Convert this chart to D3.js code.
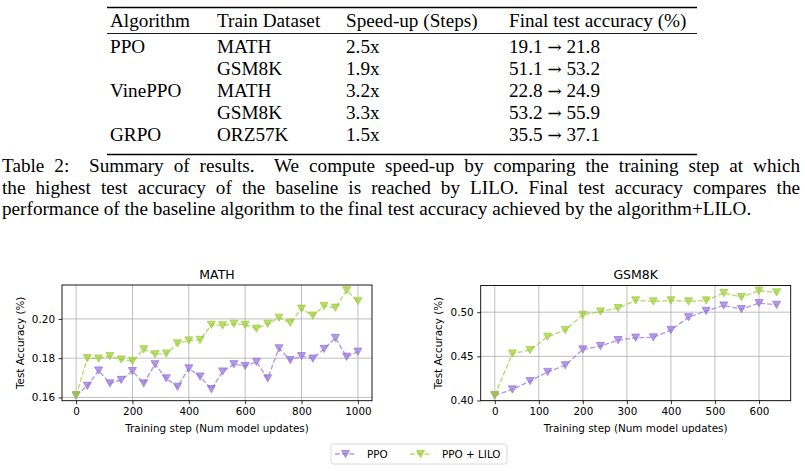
<!DOCTYPE html>
<html>
<head>
<meta charset="utf-8">
<script src="https://cdn.jsdelivr.net/npm/d3@7"></script>
<style>
  body { margin: 0; background: #fff; }
  svg { display: block; }
</style>
</head>
<body>
<script>
// ---- table data ----
const tableHeader = ["Algorithm", "Train Dataset", "Speed-up (Steps)", "Final test accuracy (%)"];
const algorithms = ["PPO", "", "VinePPO", "", "GRPO"];
const datasets = ["MATH", "GSM8K", "MATH", "GSM8K", "ORZ57K"];
const speedups = ["2.5x", "1.9x", "3.2x", "3.3x", "1.5x"];
const accBefore = ["19.1", "51.1", "22.8", "53.2", "35.5"];
const accAfter = ["21.8", "53.2", "24.9", "55.9", "37.1"];
const captionLines = [
  "Table 2:  Summary of results.  We compute speed-up by comparing the training step at which",
  "the highest test accuracy of the baseline is reached by LILO. Final test accuracy compares the",
  "performance of the baseline algorithm to the final test accuracy achieved by the algorithm+LILO."
];

// ---- chart data ----
const mathSteps = [0, 40, 80, 120, 160, 200, 240, 280, 320, 360, 400, 440, 480, 520, 560, 600, 640, 680, 720, 760, 800, 840, 880, 920, 960, 1000];
const mathPPO = [0.161, 0.1659, 0.1737, 0.1671, 0.1689, 0.1734, 0.1671, 0.1769, 0.1697, 0.1654, 0.1748, 0.1706, 0.1642, 0.1732, 0.1769, 0.176, 0.1781, 0.1697, 0.185, 0.179, 0.181, 0.1798, 0.1847, 0.1903, 0.1807, 0.1833];
const mathLILO = [0.161, 0.180, 0.1798, 0.181, 0.1793, 0.1785, 0.1845, 0.182, 0.1823, 0.1875, 0.189, 0.1893, 0.197, 0.1967, 0.1975, 0.197, 0.195, 0.1975, 0.2006, 0.198, 0.2052, 0.2017, 0.2066, 0.2057, 0.2146, 0.209];
const mathXTicks = [0, 200, 400, 600, 800, 1000];
const mathYTicks = [0.16, 0.18, 0.20];

const gsmSteps = [0, 40, 80, 120, 160, 200, 240, 280, 320, 360, 400, 440, 480, 520, 560, 600, 640];
const gsmPPO = [0.4057, 0.4125, 0.422, 0.4323, 0.4399, 0.4578, 0.4616, 0.4684, 0.4711, 0.4715, 0.4798, 0.4943, 0.5015, 0.5076, 0.5034, 0.5103, 0.5084];
const gsmLILO = [0.4062, 0.4532, 0.457, 0.4722, 0.4798, 0.497, 0.5008, 0.5046, 0.5133, 0.5122, 0.5133, 0.5122, 0.5133, 0.5217, 0.5171, 0.5243, 0.5224];
const gsmXTicks = [0, 100, 200, 300, 400, 500, 600];
const gsmYTicks = [0.40, 0.45, 0.50];

const seriesNames = ["PPO", "PPO + LILO"];
const seriesColors = ["#9370db", "#9acd32"];

const W = 805, H = 471;
const serif = "'Liberation Serif', 'Times New Roman', serif";
const sans = "'DejaVu Sans', sans-serif";
const textSize = "19.2px";

const svg = d3.select("body").append("svg")
  .attr("width", W)
  .attr("height", H);

// ---- table ----
const colX = [110, 217, 346, 509];
const headerY = 26.5;
const rowY = [53, 75, 97, 119, 141];

const table = svg.append("g")
  .style("font-family", serif)
  .style("font-size", textSize)
  .attr("fill", "#000");

table.append("line").attr("x1", 107).attr("x2", 697).attr("y1", 7.5).attr("y2", 7.5)
  .attr("stroke", "#000").attr("stroke-width", 1.4);
table.append("line").attr("x1", 107).attr("x2", 697).attr("y1", 33.5).attr("y2", 33.5)
  .attr("stroke", "#000").attr("stroke-width", 0.9);
table.append("line").attr("x1", 107).attr("x2", 697).attr("y1", 154.5).attr("y2", 154.5)
  .attr("stroke", "#000").attr("stroke-width", 1.4);

table.selectAll("text.head")
  .data(tableHeader)
  .enter().append("text")
  .attr("class", "head")
  .attr("x", (d, i) => colX[i])
  .attr("y", headerY)
  .text(d => d);

const rows = d3.range(datasets.length).map(i => [algorithms[i], datasets[i], speedups[i]]);

table.selectAll("g.row")
  .data(rows)
  .enter().append("g")
  .attr("class", "row")
  .each(function(r, i) {
    const rg = d3.select(this);
    rg.selectAll("text")
      .data(r)
      .enter().append("text")
      .attr("x", (d, j) => colX[j])
      .attr("y", rowY[i])
      .text(d => d);
    const acc = rg.append("text")
      .attr("x", colX[3])
      .attr("y", rowY[i])
      .style("white-space", "pre");
    acc.append("tspan").text(accBefore[i] + " ");
    acc.append("tspan").style("font-family", "'DejaVu Serif', serif")
      .style("font-size", "17px").text("\u2192");
    acc.append("tspan").text(" " + accAfter[i]);
  });

// ---- caption (justified) ----
const capY = [172, 193.5, 215];
const capX = 2, capW = 798;
captionLines.forEach((line, i) => {
  const t = svg.append("text")
    .attr("x", capX)
    .attr("y", capY[i])
    .style("font-family", serif)
    .style("font-size", textSize)
    .style("white-space", "pre")
    .text(line);
  if (i < captionLines.length - 1) {
    const natural = t.node().getComputedTextLength();
    const spaces = (line.match(/ /g) || []).length;
    t.style("word-spacing", ((capW - natural) / spaces) + "px");
  }
});

// ---- charts ----
const tri = "M-4,-3.6L4,-3.6L0,3.6Z";

function drawChart(opt) {
  const g = svg.append("g").style("font-family", sans);
  const allY = opt.series.flat();
  const [yMin, yMax] = d3.extent(allY);
  const yPad = (yMax - yMin) * 0.05;
  const xPad = (d3.max(opt.steps) - d3.min(opt.steps)) * 0.05;

  const x = d3.scaleLinear()
    .domain([d3.min(opt.steps) - xPad, d3.max(opt.steps) + xPad])
    .range([opt.left, opt.right]);
  const y = d3.scaleLinear()
    .domain([yMin - yPad, yMax + yPad])
    .range([opt.bottom, opt.top]);

  // grid
  g.selectAll("line.gx").data(opt.xTicks).enter().append("line")
    .attr("x1", d => x(d)).attr("x2", d => x(d))
    .attr("y1", opt.top).attr("y2", opt.bottom)
    .attr("stroke", "#b0b0b0").attr("stroke-width", 0.8);
  g.selectAll("line.gy").data(opt.yTicks).enter().append("line")
    .attr("y1", d => y(d)).attr("y2", d => y(d))
    .attr("x1", opt.left).attr("x2", opt.right)
    .attr("stroke", "#b0b0b0").attr("stroke-width", 0.8);

  // axes
  const xAxis = d3.axisBottom(x).tickValues(opt.xTicks).tickFormat(d3.format("d"))
    .tickSize(3.5).tickPadding(3.5);
  const yAxis = d3.axisLeft(y).tickValues(opt.yTicks).tickFormat(d3.format(".2f"))
    .tickSize(3.5).tickPadding(3.5);

  const gx = g.append("g").attr("transform", "translate(0," + opt.bottom + ")").call(xAxis);
  const gy = g.append("g").attr("transform", "translate(" + opt.left + ",0)").call(yAxis);
  [gx, gy].forEach(a => {
    a.select(".domain").remove();
    a.selectAll("line").attr("stroke", "#000").attr("stroke-width", 0.8);
    a.selectAll("text").attr("fill", "#000")
      .style("font-family", sans).style("font-size", "10.4px");
  });

  // series
  opt.series.forEach((vals, k) => {
    const pts = opt.steps.map((s, i) => [s, vals[i]]);
    g.append("path")
      .datum(pts)
      .attr("fill", "none")
      .attr("stroke", seriesColors[k])
      .attr("stroke-opacity", 0.7)
      .attr("stroke-width", 1.4)
      .attr("stroke-dasharray", "5,2.2")
      .attr("d", d3.line().x(d => x(d[0])).y(d => y(d[1])));
    g.selectAll("path.m" + k)
      .data(pts)
      .enter().append("path")
      .attr("class", "m" + k)
      .attr("d", tri)
      .attr("transform", d => "translate(" + x(d[0]) + "," + y(d[1]) + ")")
      .attr("fill", seriesColors[k])
      .attr("fill-opacity", 0.7)
      .attr("stroke", seriesColors[k])
      .attr("stroke-opacity", 0.7)
      .attr("stroke-width", 1);
  });

  // frame
  g.append("rect")
    .attr("x", opt.left).attr("y", opt.top)
    .attr("width", opt.right - opt.left).attr("height", opt.bottom - opt.top)
    .attr("fill", "none").attr("stroke", "#000").attr("stroke-width", 0.9);

  // labels
  const cx = (opt.left + opt.right) / 2;
  g.append("text").attr("x", cx).attr("y", 279.3)
    .attr("text-anchor", "middle").style("font-size", "12.5px").text(opt.title);
  g.append("text").attr("x", cx).attr("y", 431.5)
    .attr("text-anchor", "middle").style("font-size", "10.4px")
    .text("Training step (Num model updates)");
  g.append("text")
    .attr("transform", "translate(" + opt.ylabelX + "," + ((opt.top + opt.bottom) / 2) + ") rotate(-90)")
    .attr("text-anchor", "middle").style("font-size", "10.4px")
    .text("Test Accuracy (%)");
}

drawChart({
  title: "MATH", steps: mathSteps, series: [mathPPO, mathLILO],
  xTicks: mathXTicks, yTicks: mathYTicks,
  left: 62, right: 372, top: 285, bottom: 400.7, ylabelX: 24
});
drawChart({
  title: "GSM8K", steps: gsmSteps, series: [gsmPPO, gsmLILO],
  xTicks: gsmXTicks, yTicks: gsmYTicks,
  left: 480.7, right: 790.7, top: 285.5, bottom: 400.7, ylabelX: 442
});

// ---- legend ----
const leg = svg.append("g").style("font-family", sans).style("font-size", "10.4px");
leg.append("rect")
  .attr("x", 331).attr("y", 444).attr("width", 176).attr("height", 20)
  .attr("rx", 2.5)
  .attr("fill", "#fff").attr("fill-opacity", 0.8)
  .attr("stroke", "#d0d0d0").attr("stroke-width", 0.8);
const legX = [335, 410];
const legTextX = [367, 442];
seriesNames.forEach((name, k) => {
  leg.append("line")
    .attr("x1", legX[k]).attr("x2", legX[k] + 21)
    .attr("y1", 454).attr("y2", 454)
    .attr("stroke", seriesColors[k]).attr("stroke-opacity", 0.7)
    .attr("stroke-width", 1.4).attr("stroke-dasharray", "5,2.2");
  leg.append("path")
    .attr("d", tri)
    .attr("transform", "translate(" + (legX[k] + 10.5) + ",454)")
    .attr("fill", seriesColors[k]).attr("fill-opacity", 0.7)
    .attr("stroke", seriesColors[k]).attr("stroke-opacity", 0.7);
  leg.append("text")
    .attr("x", legTextX[k]).attr("y", 457.8)
    .text(name);
});
</script>
</body>
</html>
